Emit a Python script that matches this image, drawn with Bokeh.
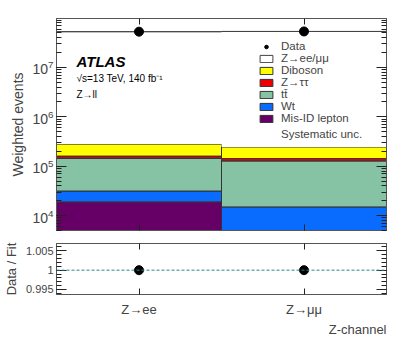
from bokeh.plotting import figure
from bokeh.models import (FactorRange, Range1d, LogAxis, LinearAxis, CategoricalAxis,
                          Legend, LegendItem, Label, Span, FixedTicker, LogTicker,
                          ColumnDataSource, CustomJSTickFormatter, Title)
from bokeh.layouts import column
from bokeh.embed import file_html
from bokeh.resources import INLINE

# ---------------- data ----------------
channels = ["Z→ee", "Z→μμ"]
misid = [1.9e4, 0.0]
wt = [1.25e4, 1.5e4]
ttbar = [1.13e5, 1.13e5]
ztautau = [1.6e4, 1.5e4]
diboson = [1.2e5, 1.02e5]
zll = [5.27e7, 5.33e7]
data = [5.30e7, 5.36e7]
ratio = [1.0, 1.0]
ratio_ticks = [0.995, 1.0, 1.005]
ratio_tick_labels = ["0.995", "1", "1.005"]

stack_names = ["Mis-ID lepton", "Wt", "tt̄", "Z→ττ", "Diboson", "Z→ee/μμ"]
stack_vals = [misid, wt, ttbar, ztautau, diboson, zll]
stack_colors = ["#660066", "#0a6cff", "#86c2a4", "#ee0000", "#ffff00", "#ffffff"]

FONT = "Liberation Sans"
FRAME = "#555555"
BLANK = CustomJSTickFormatter(code="return ''")

# ---------------- main panel ----------------
p = figure(x_range=FactorRange(*channels), y_range=Range1d(5e3, 9.8e7),
           y_axis_type="log", width=387, height=236,
           output_backend="svg", toolbar_location=None,
           min_border_left=47, min_border_right=1, min_border_top=18,
           min_border_bottom=6)
p.grid.visible = False
p.outline_line_color = FRAME

base = [1.0, 1.0]
renderers = {}
for name, vals, col in zip(stack_names, stack_vals, stack_colors):
    top = [b + v for b, v in zip(base, vals)]
    src = ColumnDataSource(dict(x=channels, bottom=base, top=top))
    last = name == stack_names[-1]
    r = p.vbar(x="x", width=1.0, bottom="bottom", top="top", source=src,
               fill_color=col, line_color=None if last else "#333333",
               line_width=1)
    renderers[name] = [r]
    base = top
# outline along the top of the stack
r_top = p.vbar(x=channels, width=1.0, bottom=base, top=base, fill_color=None,
               line_color="#444444", line_width=1)
renderers[stack_names[-1]].append(r_top)

syst_src = ColumnDataSource(dict(x=[], bottom=[], top=[]))
r_syst = p.vbar(x="x", width=1.0, bottom="bottom", top="top", source=syst_src,
                fill_color="#00ffff", line_color=None)

r_data = p.scatter(x=channels, y=data, size=9, color="black")


def style_axis(ax, labels=True, size="14px"):
    ax.major_tick_in = 10
    ax.major_tick_out = 0
    ax.minor_tick_in = 5
    ax.minor_tick_out = 0
    ax.axis_line_color = FRAME
    ax.major_tick_line_color = "#222222"
    ax.minor_tick_line_color = "#222222"
    ax.major_label_text_font = FONT
    ax.axis_label_text_font = FONT
    ax.axis_label_text_font_style = "normal"
    ax.major_label_text_font_size = size
    if not labels:
        ax.formatter = BLANK
        ax.major_label_standoff = 0


style_axis(p.yaxis[0])
p.yaxis.ticker = LogTicker(num_minor_ticks=10)
p.yaxis.axis_label = "Weighted events"
p.yaxis.axis_label_text_font_size = "14px"
p.yaxis.axis_label_standoff = 3
p.yaxis.major_label_standoff = 3

ry = LogAxis(ticker=LogTicker(num_minor_ticks=10))
style_axis(ry, labels=False)
p.add_layout(ry, "right")

style_axis(p.xaxis[0], labels=False)
p.xaxis.major_tick_in = 6
tx = CategoricalAxis()
style_axis(tx, labels=False)
tx.major_tick_in = 6
p.add_layout(tx, "above")

for txt, ys, size, style in [("ATLAS", 169.5, "15px", "bold italic"),
                             ("√s=13 TeV, 140 fb⁻¹", 152.5, "10px", "normal"),
                             ("Z→ll", 136.5, "10px", "normal")]:
    p.add_layout(Label(x=20, y=ys, x_units="screen", y_units="screen", text=txt,
                       text_font=FONT, text_font_size=size, text_font_style=style,
                       text_baseline="middle", text_color="black"))

leg1 = Legend(items=[LegendItem(label="Data", renderers=[r_data])] +
              [LegendItem(label=n, renderers=renderers[n]) for n in stack_names[::-1]],
              location=(202, 106))
leg2 = Legend(items=[LegendItem(label="Systematic unc.", renderers=[r_syst])],
              location=(202, 90))
for lg in (leg1, leg2):
    lg.background_fill_alpha = 0
    lg.border_line_alpha = 0
    lg.label_text_font = FONT
    lg.label_text_font_size = "11.5px"
    lg.glyph_width = 16
    lg.glyph_height = 9
    lg.label_height = 9
    lg.spacing = 0
    lg.padding = 0
    lg.margin = 0
    lg.label_standoff = 7
    p.add_layout(lg)

# ---------------- ratio panel ----------------
q = figure(x_range=p.x_range, y_range=Range1d(0.9937, 1.0069),
           width=387, height=100, output_backend="svg", toolbar_location=None,
           min_border_left=47, min_border_right=1, min_border_top=7,
           min_border_bottom=36)
q.grid.visible = False
q.outline_line_color = FRAME
q.add_layout(Span(location=1.0, dimension="width", line_dash="3 2",
                  line_color="#2f8090", line_width=1))
q.scatter(x=channels, y=ratio, size=9, color="black")

minor_r = [0.994 + 0.001 * i for i in range(13)]
style_axis(q.yaxis[0], size="11px")
q.yaxis.ticker = FixedTicker(ticks=ratio_ticks, minor_ticks=minor_r)
q.yaxis.major_label_overrides = {t: s for t, s in zip(ratio_ticks, ratio_tick_labels)}
q.yaxis.axis_label = "Data / Fit"
q.yaxis.axis_label_text_font_size = "13px"
q.yaxis.axis_label_standoff = 4
q.yaxis.major_label_standoff = 3

ry2 = LinearAxis(ticker=FixedTicker(ticks=ratio_ticks, minor_ticks=minor_r))
style_axis(ry2, labels=False)
q.add_layout(ry2, "right")

style_axis(q.xaxis[0], size="13px")
q.xaxis.major_tick_in = 6
q.xaxis.major_label_standoff = 7
tx2 = CategoricalAxis()
style_axis(tx2, labels=False)
tx2.major_tick_in = 6
q.add_layout(tx2, "above")
q.add_layout(Title(text="Z-channel", align="right", text_font=FONT, standoff=0,
                   text_font_size="13px", text_font_style="normal"), "below")

layout = column(p, q, spacing=0)
open("out.html", "w").write(file_html(layout, INLINE))
